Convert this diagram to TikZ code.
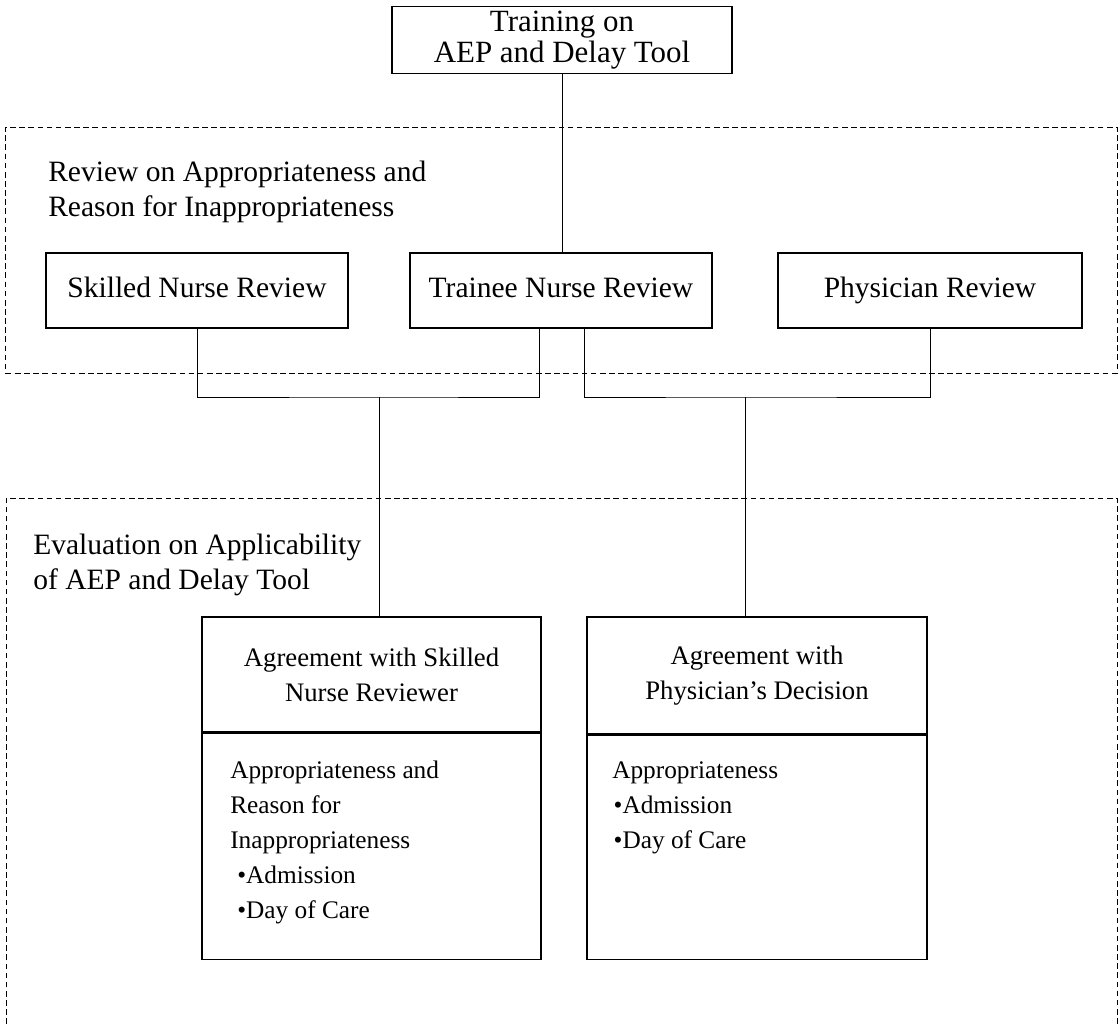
\documentclass[tikz,border=0pt]{standalone}
\usepackage{fontspec}
\setmainfont{Liberation Serif}
\usetikzlibrary{positioning}
\begin{document}
\begin{tikzpicture}[x=0.025cm,y=-0.025cm,
    box/.style={draw,line width=0.9pt,inner sep=2pt,align=center,font=\fontsize{21}{24.9}\selectfont},
    revbox/.style={box,minimum height=1.875cm,text height=14pt,text depth=4.5pt},
    headbox/.style={box,minimum width=8.5cm,font=\fontsize{19}{24.9}\selectfont},
    region/.style={draw,dash pattern=on 4pt off 2.5pt,line width=0.6pt},
    lbl/.style={inner sep=0pt,align=left,anchor=west,font=\fontsize{21}{24.9}\selectfont},
    item/.style={inner sep=0pt,align=left,anchor=north west,font=\fontsize{18}{24.9}\selectfont},
    link/.style={line width=0.7pt}]
  \useasboundingbox (0,0) rectangle (1120,1024);
  \node[box,minimum width=8.5cm,minimum height=1.675cm,font=\fontsize{22}{21.5}\selectfont] (train) at (562,40) {Training on\\AEP and Delay Tool};
  \node[region,minimum width=27.775cm,minimum height=6.15cm] (review) at (561.5,250) {};
  \node[lbl] (revlbl) at (48,192) {Review on Appropriateness and\\Reason for Inappropriateness};
  \node[revbox,minimum width=7.55cm] (skill) at (197,290.5) {Skilled Nurse Review};
  \node[revbox,minimum width=7.55cm] (trainee) at (561,290.5) {Trainee Nurse Review};
  \node[revbox,minimum width=7.6cm] (phys) at (930,290.5) {Physician Review};
  \draw[region] (6,1024) |- (1117,498) -- (1117,1024);
  \node[lbl] (evallbl) at (33,565) {Evaluation on Applicability\\of AEP and Delay Tool};
  \node[headbox,minimum width=8.475cm,minimum height=2.875cm] (agShead) at (371.5,674.5) {Agreement with Skilled\\Nurse Reviewer};
  \node[box,minimum width=8.475cm,minimum height=5.65cm,below=0pt of agShead] (agSbody) {};
  \node[headbox,minimum height=2.925cm] (agPhead) at (757,675.5) {Agreement with\\Physician's Decision};
  \node[box,minimum width=8.5cm,minimum height=5.6cm,below=0pt of agPhead] (agPbody) {};
  \node[item] (agStext) at (230,761) {Appropriateness and\\Reason for\\Inappropriateness\\\hspace*{5pt}\textbullet Admission\\\hspace*{5pt}\textbullet Day of Care};
  \node[item] (agPtext) at (612,761) {Appropriateness\\\hspace*{1pt}\textbullet Admission\\\hspace*{1pt}\textbullet Day of Care};
  \coordinate (jS) at (379,397);
  \coordinate (jP) at (745,397);
  \coordinate (tS) at ([xshift=-0.55cm]trainee.south);
  \coordinate (tP) at ([xshift=0.575cm]trainee.south);
  \draw[link] (train.south) -- (train.south |- trainee.north);
  \draw[link] (skill.south) |- (jS) -| (tS);
  \draw[link] (tP) |- (jP) -| (phys.south);
  \draw[link] (jS) -- (jS |- agShead.north);
  \draw[link] (jP) -- (jP |- agPhead.north);
\end{tikzpicture}
\end{document}
